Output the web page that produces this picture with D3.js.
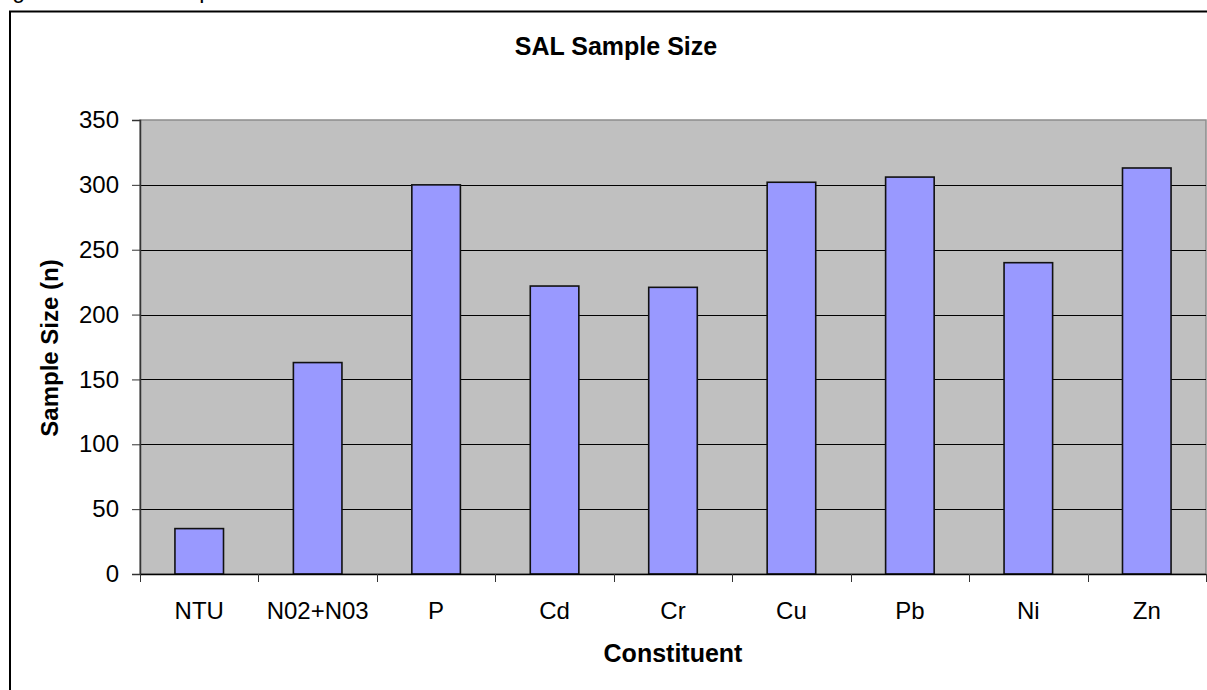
<!DOCTYPE html>
<html>
<head>
<meta charset="utf-8">
<script src="https://cdn.jsdelivr.net/npm/d3@7"></script>
<style>
  html, body { margin: 0; padding: 0; background: #fff; overflow: hidden; }
  svg { display: block; font-family: "Liberation Sans", Arial, sans-serif; }
</style>
</head>
<body>
<svg id="chart"></svg>
<script>
// chart values
const constituents = ["NTU", "N02+N03", "P", "Cd", "Cr", "Cu", "Pb", "Ni", "Zn"];
const sampleSizes = [35, 163, 300, 222, 221, 302, 306, 240, 313];
const yTicks = [0, 50, 100, 150, 200, 250, 300, 350];

const width = 1207, height = 690;
const plot = { left: 140, top: 120, right: 1206, bottom: 574 };

const svg = d3.select("#chart").attr("width", width).attr("height", height);

// caption above the chart, clipped by the page top (as in the original)
svg.append("text")
  .attr("x", -7).attr("y", -2)
  .attr("font-size", 23)
  .text("Figure 15: SAL Sample Size");

// chart area border (runs off the right and bottom edges)
svg.append("rect")
  .attr("x", 10).attr("y", 11.5)
  .attr("width", 1230).attr("height", 700)
  .attr("fill", "none")
  .attr("stroke", "#000")
  .attr("stroke-width", 2);

const x = d3.scaleBand()
  .domain(constituents)
  .range([plot.left, plot.right])
  .padding(0);

const y = d3.scaleLinear()
  .domain([0, 350])
  .range([plot.bottom, plot.top]);

// plot background
svg.append("rect")
  .attr("x", plot.left).attr("y", plot.top)
  .attr("width", plot.right - plot.left)
  .attr("height", plot.bottom - plot.top)
  .attr("fill", "#c0c0c0")
  .attr("stroke", "#8c8c8c")
  .attr("stroke-width", 1.5);

// gridlines
svg.append("g")
  .selectAll("line")
  .data(yTicks.filter(d => d > 0 && d < 350))
  .join("line")
  .attr("x1", plot.left).attr("x2", plot.right)
  .attr("y1", d => Math.round(y(d)) + 0.5)
  .attr("y2", d => Math.round(y(d)) + 0.5)
  .attr("stroke", "#000")
  .attr("stroke-width", 1);

// bars
const barW = x.bandwidth() * 0.41;
svg.append("g")
  .selectAll("rect")
  .data(constituents)
  .join("rect")
  .attr("x", (d) => x(d) + (x.bandwidth() - barW) / 2)
  .attr("y", (d, i) => y(sampleSizes[i]))
  .attr("width", barW)
  .attr("height", (d, i) => y(0) - y(sampleSizes[i]))
  .attr("fill", "#9999ff")
  .attr("stroke", "#111")
  .attr("stroke-width", 1.6);

// y axis
const yAxis = svg.append("g")
  .attr("transform", `translate(${plot.left},0)`)
  .call(d3.axisLeft(y).tickValues(yTicks).tickSize(8).tickPadding(13));
yAxis.select(".domain").attr("stroke", "#333").attr("stroke-width", 1.5);
yAxis.selectAll(".tick line").attr("stroke", "#333");
yAxis.selectAll("text")
  .attr("font-size", 24)
  .attr("font-family", "Liberation Sans, Arial, sans-serif")
  .attr("fill", "#000");

// x axis: ticks sit on the category boundaries
const xAxis = svg.append("g")
  .attr("transform", `translate(0,${plot.bottom})`)
  .call(d3.axisBottom(x).tickSize(0).tickPadding(28));
xAxis.select(".domain").attr("stroke", "#000").attr("stroke-width", 1.5);
xAxis.selectAll("text")
  .attr("font-size", 24)
  .attr("font-family", "Liberation Sans, Arial, sans-serif")
  .attr("fill", "#000");

const bounds = constituents.map(d => x(d)).concat([plot.right]);
xAxis.selectAll("line.bound")
  .data(bounds)
  .join("line")
  .attr("class", "bound")
  .attr("x1", d => Math.round(d) + 0.5).attr("x2", d => Math.round(d) + 0.5)
  .attr("y1", 0).attr("y2", 8)
  .attr("stroke", "#333");

// titles
svg.append("text")
  .attr("x", 616).attr("y", 55)
  .attr("text-anchor", "middle")
  .attr("font-size", 25)
  .attr("font-weight", "bold")
  .text("SAL Sample Size");

svg.append("text")
  .attr("transform", "translate(58,348) rotate(-90)")
  .attr("text-anchor", "middle")
  .attr("font-size", 24)
  .attr("font-weight", "bold")
  .text("Sample Size (n)");

svg.append("text")
  .attr("x", (plot.left + plot.right) / 2).attr("y", 662)
  .attr("text-anchor", "middle")
  .attr("font-size", 25)
  .attr("font-weight", "bold")
  .text("Constituent");
</script>
</body>
</html>
